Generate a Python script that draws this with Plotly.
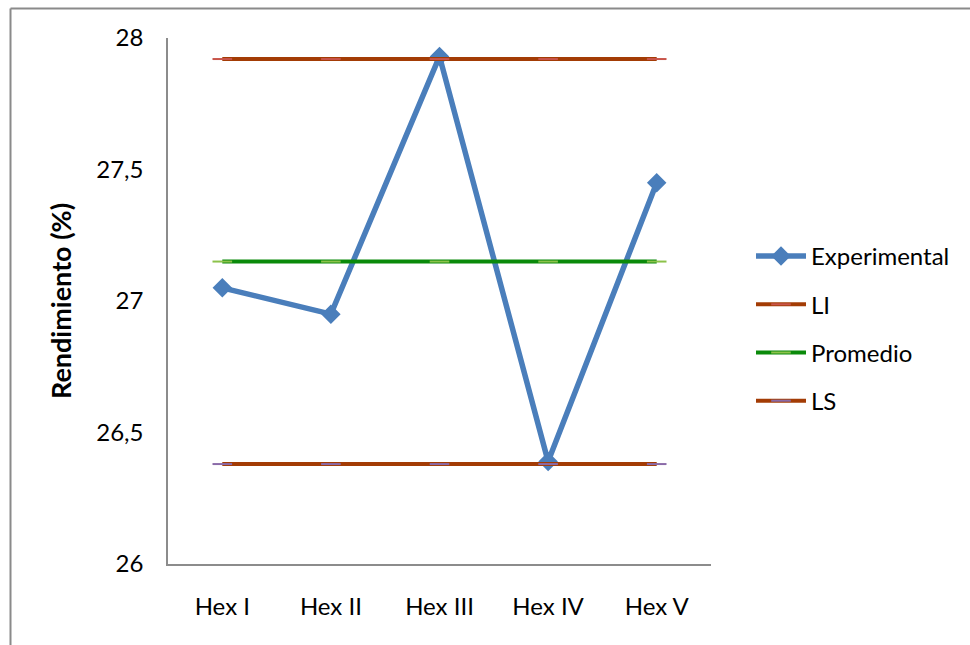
import plotly.graph_objects as go

# Muestras
categorias = ["Hex I", "Hex II", "Hex III", "Hex IV", "Hex V"]

# Rendimiento experimental (%) y límites de control
experimental = [27.05, 26.95, 27.93, 26.39, 27.45]
li = [27.92, 27.92, 27.92, 27.92, 27.92]
promedio = [27.15, 27.15, 27.15, 27.15, 27.15]
ls = [26.38, 26.38, 26.38, 26.38, 26.38]

FONT = "Lato, 'Open Sans', sans-serif"
FS = 24
W, H = 970, 645
ML, MR, MT, MB = 168, 259, 38, 81

fig = go.Figure()

fig.add_trace(go.Scatter(
    x=categorias, y=experimental, name="Experimental", mode="lines+markers",
    line=dict(color="#4A7EBB", width=5.5),
    marker=dict(symbol="diamond", size=15, color="#4A7EBB"),
    legendgroup="a",
))
fig.add_trace(go.Scatter(
    x=categorias, y=li, name="LI", mode="lines+markers",
    line=dict(color="#A33C05", width=4),
    marker=dict(symbol="line-ew", size=14, line=dict(color="#C8544A", width=2)),
    legendgroup="b",
))
fig.add_trace(go.Scatter(
    x=categorias, y=promedio, name="Promedio", mode="lines+markers",
    line=dict(color="#0A8A0A", width=4),
    marker=dict(symbol="line-ew", size=14, line=dict(color="#8CC24A", width=2)),
    legendgroup="c",
))
fig.add_trace(go.Scatter(
    x=categorias, y=ls, name="LS", mode="lines+markers",
    line=dict(color="#A33C05", width=4),
    marker=dict(symbol="line-ew", size=14, line=dict(color="#8A6AA8", width=2)),
    legendgroup="d",
))

axis_color = "#8C8C8C"

fig.update_layout(
    width=W, height=H,
    margin=dict(l=ML, r=MR, t=MT, b=MB, pad=0),
    paper_bgcolor="white", plot_bgcolor="white",
    separators=",.",
    font=dict(family=FONT, size=FS, color="#000000"),
    showlegend=True,
    legend=dict(
        x=(751 - ML) / (W - ML - MR), y=(H - MB - 234) / (H - MT - MB),
        xanchor="left", yanchor="top",
        font=dict(family=FONT, size=FS, color="#000000"),
        tracegroupgap=14, itemwidth=50,
        bgcolor="rgba(0,0,0,0)",
    ),
    xaxis=dict(
        type="category", range=[-0.5, 4.5],
        showline=True, linecolor=axis_color, linewidth=1.5,
        showgrid=False, zeroline=False, ticks="",
        ticklabelstandoff=20,
        tickfont=dict(family=FONT, size=FS),
    ),
    yaxis=dict(
        range=[26, 28], tickvals=[26, 26.5, 27, 27.5, 28],
        showline=True, linecolor=axis_color, linewidth=1.5,
        showgrid=False, zeroline=False, ticks="",
        ticklabelstandoff=18,
        tickfont=dict(family=FONT, size=FS),
        title=dict(text="<b>Rendimiento (%)</b>", font=dict(family=FONT, size=27), standoff=17),
    ),
)

# Marco exterior del gráfico
pw, ph = W - ML - MR, H - MT - MB
def px_x(v):
    return (v - ML) / pw
def px_y(v):
    return (H - MB - v) / ph

border = dict(color="#8A8A8A", width=2)
fig.add_shape(type="line", xref="paper", yref="paper",
              x0=px_x(10.5), x1=px_x(10.5), y0=px_y(8.5), y1=px_y(H + 5), line=border)
fig.add_shape(type="line", xref="paper", yref="paper",
              x0=px_x(10.5), x1=px_x(W + 5), y0=px_y(8.5), y1=px_y(8.5), line=border)

fig.write_html("out.html")
